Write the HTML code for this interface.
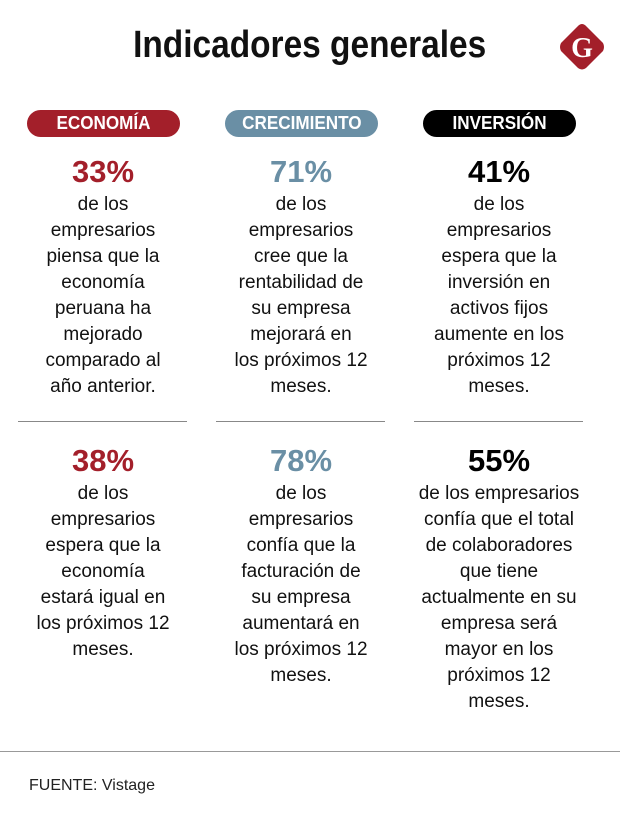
<!DOCTYPE html>
<html><head><meta charset="utf-8"><style>
body{margin:0;width:620px;height:832px;background:#fff;font-family:"Liberation Sans",sans-serif;color:#111;position:relative;overflow:hidden}
.abs{position:absolute}
#title{left:0;width:620px;top:24px;text-align:center;font-weight:bold;font-size:38px}
#title span{display:inline-block;transform:scaleX(0.88);transform-origin:center}
.pill{height:27px;top:110px;width:153px;border-radius:14px;color:#fff;font-weight:bold;font-size:18px;line-height:27px;text-align:center}
.pill span{display:inline-block;transform:scaleX(0.95)}
.col{width:190px;text-align:center}
.pct{font-weight:bold;font-size:31px;line-height:34px}
.txt{font-size:19px;line-height:26px;margin-top:3px}
.sep{height:1px;background:#888;top:421px;width:169px}
</style></head><body>
<div id="title" class="abs"><span>Indicadores generales</span></div>
<svg class="abs" style="left:557px;top:22px" width="50" height="50">
<path d="M25 2 Q27 2 29 4 L46 21 Q48 25 46 29 L29 46 Q25 49 21 46 L4 29 Q2 25 4 21 L21 4 Q23 2 25 2Z" fill="#a31f2a"/>
<text x="25" y="35" text-anchor="middle" font-family="Liberation Serif,serif" font-weight="bold" font-size="28" fill="#fff">G</text>
</svg>
<div class="abs pill" style="left:27px;background:#a31f2a"><span>ECONOMÍA</span></div>
<div class="abs pill" style="left:225px;background:#6a8fa5"><span>CRECIMIENTO</span></div>
<div class="abs pill" style="left:423px;background:#000"><span>INVERSIÓN</span></div>

<div class="abs col" style="left:8px;top:155px"><div class="pct" style="color:#a31f2a">33%</div><div class="txt">de los<br>empresarios<br>piensa que la<br>economía<br>peruana ha<br>mejorado<br>comparado al<br>año anterior.</div></div>
<div class="abs col" style="left:206px;top:155px"><div class="pct" style="color:#6a8fa5">71%</div><div class="txt">de los<br>empresarios<br>cree que la<br>rentabilidad de<br>su empresa<br>mejorará en<br>los próximos 12<br>meses.</div></div>
<div class="abs col" style="left:404px;top:155px"><div class="pct" style="color:#000">41%</div><div class="txt">de los<br>empresarios<br>espera que la<br>inversión en<br>activos fijos<br>aumente en los<br>próximos 12<br>meses.</div></div>

<div class="abs sep" style="left:18px"></div>
<div class="abs sep" style="left:216px"></div>
<div class="abs sep" style="left:414px"></div>

<div class="abs col" style="left:8px;top:444px"><div class="pct" style="color:#a31f2a">38%</div><div class="txt">de los<br>empresarios<br>espera que la<br>economía<br>estará igual en<br>los próximos 12<br>meses.</div></div>
<div class="abs col" style="left:206px;top:444px"><div class="pct" style="color:#6a8fa5">78%</div><div class="txt">de los<br>empresarios<br>confía que la<br>facturación de<br>su empresa<br>aumentará en<br>los próximos 12<br>meses.</div></div>
<div class="abs col" style="left:399px;width:200px;top:444px"><div class="pct" style="color:#000">55%</div><div class="txt">de los empresarios<br>confía que el total<br>de colaboradores<br>que tiene<br>actualmente en su<br>empresa será<br>mayor en los<br>próximos 12<br>meses.</div></div>

<div class="abs" style="left:0;top:751px;width:620px;height:1px;background:#999"></div>
<div class="abs" style="left:29px;top:777px;font-size:16px;color:#222">FUENTE: Vistage</div>
</body></html>
